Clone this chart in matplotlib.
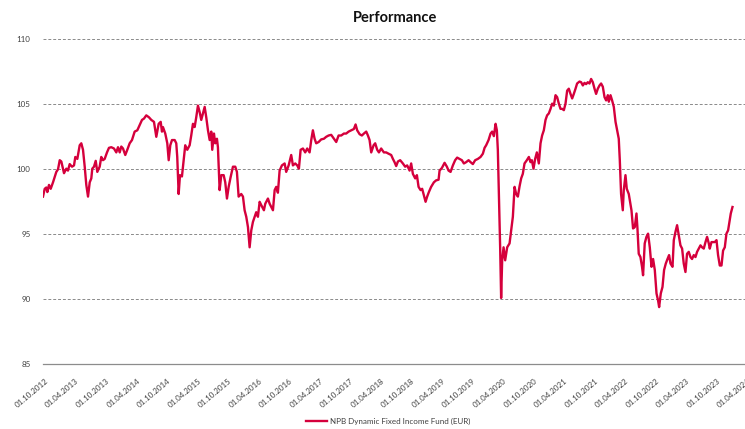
import matplotlib
matplotlib.use("Agg")
import matplotlib.pyplot as plt
import numpy as np

plt.rcParams['font.family'] = ['Lato', 'DejaVu Sans']

title = "Performance"
series_name = "NPB Dynamic Fixed Income Fund (EUR)"

# time in decimal years, fund value
t_years = [
    2012.717, 2012.745, 2012.771, 2012.788, 2012.815, 2012.843, 2012.881, 2012.935, 2012.963, 2012.991,
    2013.017, 2013.061, 2013.099, 2013.126, 2013.154, 2013.192, 2013.225, 2013.246, 2013.279, 2013.318,
    2013.344, 2013.372, 2013.400, 2013.426, 2013.454, 2013.482, 2013.508, 2013.524, 2013.552, 2013.580,
    2013.606, 2013.645, 2013.671, 2013.699, 2013.727, 2013.765, 2013.797, 2013.835, 2013.879, 2013.917,
    2013.945, 2013.973, 2013.999, 2014.027, 2014.064, 2014.097, 2014.136, 2014.174, 2014.218, 2014.261,
    2014.300, 2014.338, 2014.370, 2014.408, 2014.452, 2014.490, 2014.534, 2014.572, 2014.611, 2014.644,
    2014.665, 2014.681, 2014.719, 2014.752, 2014.775, 2014.801, 2014.829, 2014.873, 2014.899, 2014.915,
    2014.938, 2014.960, 2014.992, 2015.025, 2015.046, 2015.079, 2015.118, 2015.144, 2015.172, 2015.200,
    2015.226, 2015.254, 2015.282, 2015.308, 2015.336, 2015.364, 2015.390, 2015.418, 2015.446, 2015.472,
    2015.488, 2015.516, 2015.537, 2015.565, 2015.581, 2015.609, 2015.636, 2015.675, 2015.701, 2015.729,
    2015.757, 2015.789, 2015.827, 2015.865, 2015.892, 2015.920, 2015.963, 2015.991, 2016.018, 2016.045,
    2016.073, 2016.100, 2016.127, 2016.154, 2016.182, 2016.208, 2016.236, 2016.264, 2016.290, 2016.334,
    2016.356, 2016.400, 2016.428, 2016.454, 2016.482, 2016.510, 2016.536, 2016.563, 2016.591, 2016.629,
    2016.673, 2016.699, 2016.739, 2016.781, 2016.809, 2016.847, 2016.879, 2016.907, 2016.935, 2016.973,
    2017.010, 2017.043, 2017.082, 2017.109, 2017.136, 2017.164, 2017.190, 2017.230, 2017.272, 2017.316,
    2017.354, 2017.393, 2017.436, 2017.480, 2017.518, 2017.557, 2017.600, 2017.644, 2017.681, 2017.721,
    2017.763, 2017.807, 2017.835, 2017.861, 2017.901, 2017.938, 2017.971, 2018.009, 2018.037, 2018.064,
    2018.091, 2018.130, 2018.156, 2018.189, 2018.217, 2018.254, 2018.298, 2018.336, 2018.375, 2018.418,
    2018.446, 2018.473, 2018.500, 2018.528, 2018.565, 2018.609, 2018.647, 2018.680, 2018.719, 2018.745,
    2018.773, 2018.811, 2018.839, 2018.866, 2018.899, 2018.925, 2018.953, 2018.981, 2019.007, 2019.035,
    2019.072, 2019.117, 2019.154, 2019.194, 2019.210, 2019.248, 2019.292, 2019.330, 2019.357, 2019.390,
    2019.428, 2019.465, 2019.498, 2019.537, 2019.575, 2019.608, 2019.645, 2019.685, 2019.718, 2019.755,
    2019.793, 2019.837, 2019.881, 2019.919, 2019.947, 2019.973, 2020.012, 2020.045, 2020.071, 2020.099,
    2020.127, 2020.148, 2020.164, 2020.181, 2020.202, 2020.218, 2020.235, 2020.258, 2020.284, 2020.317,
    2020.356, 2020.382, 2020.410, 2020.438, 2020.464, 2020.492, 2020.520, 2020.546, 2020.573, 2020.601,
    2020.639, 2020.672, 2020.699, 2020.721, 2020.748, 2020.775, 2020.803, 2020.835, 2020.863, 2020.889,
    2020.917, 2020.945, 2020.971, 2020.999, 2021.027, 2021.053, 2021.081, 2021.109, 2021.135, 2021.163,
    2021.190, 2021.217, 2021.245, 2021.272, 2021.299, 2021.326, 2021.354, 2021.381, 2021.408, 2021.436,
    2021.462, 2021.501, 2021.528, 2021.556, 2021.583, 2021.609, 2021.637, 2021.665, 2021.691, 2021.719,
    2021.747, 2021.773, 2021.801, 2021.829, 2021.855, 2021.883, 2021.911, 2021.937, 2021.965, 2021.981,
    2022.009, 2022.035, 2022.063, 2022.091, 2022.117, 2022.144, 2022.161, 2022.182, 2022.210, 2022.226,
    2022.254, 2022.275, 2022.308, 2022.336, 2022.352, 2022.378, 2022.406, 2022.434, 2022.450, 2022.471,
    2022.499, 2022.525, 2022.542, 2022.569, 2022.597, 2022.624, 2022.652, 2022.680, 2022.706, 2022.734,
    2022.762, 2022.788, 2022.805, 2022.832, 2022.860, 2022.886, 2022.914, 2022.942, 2022.968, 2022.991,
    2023.024, 2023.045, 2023.073, 2023.099, 2023.127, 2023.154, 2023.181, 2023.208, 2023.236, 2023.262,
    2023.290, 2023.318, 2023.344, 2023.372, 2023.400, 2023.426, 2023.454, 2023.482, 2023.508, 2023.536,
    2023.564, 2023.590, 2023.618, 2023.634, 2023.662, 2023.688, 2023.716, 2023.744, 2023.770, 2023.798,
    2023.826, 2023.852, 2023.880, 2023.907, 2023.934, 2023.962, 2023.978, 2024.006,
]
values = [
    97.9, 98.5, 98.6, 98.25, 98.8, 98.5, 99.0, 99.8, 100.0, 100.7,
    100.6, 99.7, 100.05, 99.9, 100.4, 100.2, 100.3, 100.95, 100.8, 101.85,
    102.0, 101.5, 100.2, 98.8, 97.9, 99.0, 99.3, 100.05, 100.2, 100.65,
    99.8, 100.2, 100.95, 100.7, 100.8, 101.3, 101.65, 101.7, 101.6, 101.3,
    101.7, 101.3, 101.75, 101.6, 101.1, 101.5, 102.0, 102.25, 102.9, 103.0,
    103.4, 103.8, 103.9, 104.15, 104.0, 103.8, 103.65, 102.5, 103.5, 103.65,
    102.9, 103.25, 102.75, 102.0, 100.7, 101.85, 102.25, 102.25, 102.0, 100.95,
    98.1, 99.55, 99.45, 100.95, 101.85, 101.5, 101.85, 102.6, 103.5, 103.25,
    104.0, 104.9, 104.4, 103.8, 104.3, 104.8, 104.0, 103.0, 102.25, 102.9,
    101.5, 102.75, 102.0, 102.35, 101.7, 98.4, 99.55, 99.55, 99.0, 97.75,
    98.65, 99.4, 100.2, 100.2, 99.8, 97.9, 98.1, 97.9, 96.85, 96.35,
    95.55, 94.0, 95.3, 95.95, 96.35, 96.7, 96.35, 97.5, 97.25, 96.85,
    97.35, 97.75, 97.35, 97.1, 96.85, 98.4, 98.65, 98.2, 99.9, 100.3,
    100.45, 99.8, 100.3, 101.1, 100.3, 100.45, 100.3, 100.05, 101.5, 101.6,
    101.3, 101.6, 101.3, 102.25, 103.0, 102.35, 102.0, 102.1, 102.3, 102.35,
    102.5, 102.6, 102.65, 102.35, 102.1, 102.6, 102.6, 102.75, 102.75, 102.9,
    103.0, 103.1, 103.45, 103.0, 102.7, 102.6, 102.75, 102.9, 102.6, 102.25,
    101.3, 101.85, 102.0, 101.5, 101.3, 101.6, 101.3, 101.3, 101.2, 101.1,
    100.8, 100.55, 100.25, 100.6, 100.7, 100.45, 100.2, 100.3, 99.9, 100.45,
    99.65, 99.3, 99.55, 98.65, 98.4, 98.5, 98.0, 97.5, 97.9, 98.25,
    98.65, 99.0, 99.15, 99.2, 99.9, 100.1, 100.5, 100.2, 99.9, 99.8,
    100.3, 100.7, 100.9, 100.8, 100.7, 100.45, 100.55, 100.7, 100.55, 100.4,
    100.7, 100.8, 100.95, 101.2, 101.65, 101.85, 102.25, 102.75, 102.9, 102.55,
    103.5, 103.0, 101.5, 98.1, 94.0, 90.1, 93.0, 94.0, 93.0, 94.0,
    94.3, 95.3, 96.35, 98.65, 98.1, 97.9, 98.7, 99.3, 99.65, 100.45,
    100.7, 100.95, 100.55, 100.7, 100.05, 100.8, 101.3, 100.45, 102.0, 102.6,
    103.0, 103.8, 104.15, 104.3, 104.65, 105.05, 104.9, 105.7, 105.55, 105.05,
    104.65, 104.65, 104.55, 105.05, 106.05, 106.2, 105.8, 105.45, 105.8, 106.2,
    106.6, 106.75, 106.7, 106.45, 106.65, 106.55, 106.7, 106.6, 106.95, 106.7,
    106.2, 105.8, 106.2, 106.45, 106.6, 106.35, 105.55, 105.3, 105.7, 105.2,
    105.7, 105.3, 104.8, 103.65, 103.0, 102.35, 100.7, 98.1, 96.85, 98.4,
    99.55, 98.5, 98.1, 97.3, 96.85, 95.45, 95.55, 96.6, 95.45, 93.5,
    93.25, 92.5, 91.85, 94.3, 94.8, 95.05, 94.0, 92.5, 93.1, 92.25,
    90.45, 89.9, 89.4, 90.45, 90.95, 92.25, 92.75, 93.1, 93.4, 92.75,
    92.5, 94.55, 95.2, 95.7, 94.9, 94.15, 93.9, 92.75, 92.1, 93.5,
    93.65, 93.25, 93.1, 93.4, 93.25, 93.65, 93.9, 94.15, 94.0, 93.9,
    94.4, 94.8, 94.3, 93.9, 94.4, 94.4, 94.4, 94.55, 93.4, 92.6,
    92.6, 93.75, 94.0, 95.05, 95.3, 96.1, 96.6, 97.1,
]

x_tick_labels = [
    "01.10.2012", "01.04.2013", "01.10.2013", "01.04.2014", "01.10.2014", "01.04.2015",
    "01.10.2015", "01.04.2016", "01.10.2016", "01.04.2017", "01.10.2017", "01.04.2018",
    "01.10.2018", "01.04.2019", "01.10.2019", "01.04.2020", "01.10.2020", "01.04.2021",
    "01.10.2021", "01.04.2022", "01.10.2022", "01.04.2023", "01.10.2023", "01.04.2024",
]
y_ticks = [85, 90, 95, 100, 105, 110]


def label_to_year(s):
    d, m, y = s.split(".")
    return int(y) + (int(m) - 1) / 12.0


x_tick_pos = [label_to_year(s) for s in x_tick_labels]

W, H = 745, 429
fig = plt.figure(figsize=(W / 100, H / 100), dpi=100)
ax_left, ax_right = 43, 748
ax_top, ax_bottom = 39.3, 364.3
ax = fig.add_axes([ax_left / W, (H - ax_bottom) / H, (ax_right - ax_left) / W, (ax_bottom - ax_top) / H])

line_color = "#D5003C"
ax.plot(t_years, values, color=line_color, lw=1.7, solid_joinstyle="round",
        label=series_name, zorder=3)

ax.set_xlim(2012.717, 2024.26)
ax.set_ylim(85, 110)

for s in ["top", "right", "left"]:
    ax.spines[s].set_visible(False)
ax.spines["bottom"].set_color("#8c8c8c")
ax.spines["bottom"].set_linewidth(0.9)

ax.set_yticks(y_ticks)
ax.set_yticklabels([str(v) for v in y_ticks])
for yv in y_ticks[1:]:
    ax.axhline(yv, color="#8a8a8a", lw=0.7, ls=(0, (3, 2)), zorder=1)

ax.set_xticks(x_tick_pos)
ax.set_xticklabels(x_tick_labels, rotation=40, ha="right", va="top", rotation_mode="anchor")
ax.tick_params(axis="x", length=0, pad=9, labelsize=5.8, colors="#404040")
ax.tick_params(axis="y", length=0, pad=9, labelsize=5.8, colors="#404040")

fig.text(395.5 / W, 1 - 18 / H, title, ha="center", va="center", fontsize=10.5,
         fontweight="bold", color="#111111")

fig.legend(loc="center", bbox_to_anchor=(388 / W, 1 - 421 / H), frameon=False,
           fontsize=5.8, handlelength=2.6, handletextpad=0.4, labelcolor="#404040")

fig.savefig("out.png", dpi=100)
